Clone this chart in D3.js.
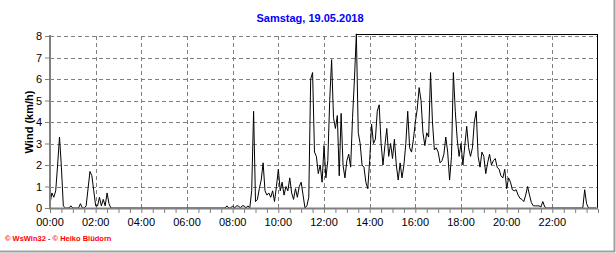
<!DOCTYPE html>
<html>
<head>
<meta charset="utf-8">
<script src="https://cdn.jsdelivr.net/npm/d3@7"></script>
<style>
  body { margin: 0; background: #fff; }
  svg { display: block; font-family: "Liberation Sans", Arial, sans-serif; }
</style>
</head>
<body>
<div id="chart"></div>
<script>
// wind speed, one value every 5 minutes from 00:00
var windValues = [
  0.2, 0.7, 0.5, 0.8, 2.0, 3.3, 1.9, 0.1,
  0, 0, 0, 0.1, 0, 0, 0, 0, 0.2, 0, 0, 0.1, 0.9, 1.7, 1.5, 0.8, 0.1, 0.1, 0.5, 0.1, 0.4, 0.1, 0.7, 0.2, 0,
  0, 0, 0, 0, 0, 0, 0, 0, 0, 0, 0, 0, 0, 0, 0, 0, 0, 0, 0, 0,
  0, 0, 0, 0, 0, 0, 0, 0, 0, 0, 0, 0, 0, 0, 0, 0, 0, 0, 0, 0,
  0, 0, 0, 0, 0, 0, 0, 0, 0, 0, 0, 0, 0, 0, 0, 0, 0, 0, 0, 0,
  0.1, 0, 0, 0.1, 0, 0.1, 0.1, 0, 0.1, 0.1, 0, 0.1, 0,
  0.8, 4.5, 0.3, 0.4, 0.9, 1.3, 2.1, 0.8, 0.6, 0.7, 0.5, 0.8, 0.3, 1.0, 1.8, 0.8, 1.2,
  0.6, 1.0, 0.8, 1.4, 0.7, 0.4, 0.9, 0.5, 1.0, 1.2, 0.6, 0, 0.1, 0.5, 6.0, 6.3, 2.6,
  2.4, 1.6, 2.0, 1.2, 2.9, 1.4, 2.2, 5.0, 6.9, 4.2, 3.7, 4.3, 1.5, 4.4, 2.0,
  1.4, 2.2, 2.5, 1.9, 4.2, 6.0, 8.1, 3.5, 3.0, 2.0, 1.9, 1.2, 0.9, 2.2, 3.9,
  3.0, 3.2, 4.5, 4.8, 3.0, 2.0, 2.9, 3.7, 2.4, 3.0, 2.3, 3.2, 2.0, 1.3, 2.1,
  1.4, 2.0, 3.0, 4.5, 2.8, 2.6, 3.2, 4.0, 4.6, 5.6, 5.0, 3.5, 2.9, 3.5, 3.3,
  6.3, 4.0, 2.7, 2.8, 2.6, 2.1, 2.2, 2.5, 3.3, 2.6, 1.3, 2.4, 6.3, 4.5, 3.2,
  2.4, 3.0, 2.0, 2.9, 3.8, 2.8, 2.4, 2.8, 4.0, 4.5, 2.4, 1.9, 2.6, 2.4, 1.6,
  2.1, 2.5, 2.0, 2.2, 2.3, 1.9, 1.8, 1.5, 1.4, 1.8, 0.9, 1.4, 1.2, 0.85, 0.8, 0.85,
  0.6, 0.45, 0.4, 0.3, 0.6, 1.0, 0.6, 0.25, 0.1, 0.1, 0.1, 0.1, 0.05, 0.3, 0.05,
  0, 0, 0, 0, 0, 0, 0, 0, 0, 0, 0, 0, 0, 0, 0, 0, 0, 0, 0, 0,
  0.85, 0.2, 0, 0, 0, 0, 0
];
var stepMinutes = 5;

var hourTicks = [0, 120, 240, 360, 480, 600, 720, 840, 960, 1080, 1200, 1320];
var hourLabels = ["00:00", "02:00", "04:00", "06:00", "08:00", "10:00",
                  "12:00", "14:00", "16:00", "18:00", "20:00", "22:00"];
var yTicks = [0, 1, 2, 3, 4, 5, 6, 7, 8];

var titleText = "Samstag, 19.05.2018";
var yLabel = "Wind (km/h)";
var footerText = "\u00a9 WsWin32  -  \u00a9 Heiko Blüdorn";

var width = 616,
    height = 253;

var svg = d3.select("#chart")
  .append("svg")
  .attr("width", width)
  .attr("height", height);

var x = d3.scaleLinear().domain([0, 1440]).range([50, 598]);
var y = d3.scaleLinear().domain([0, 8]).range([208, 36]);

// outer frame (right + bottom only)
svg.append("line").attr("x1", 614.5).attr("x2", 614.5).attr("y1", 0).attr("y2", 252)
  .attr("stroke", "#a0a0a0").attr("stroke-width", 2);
svg.append("line").attr("x1", 0).attr("x2", 615).attr("y1", 251.5).attr("y2", 251.5)
  .attr("stroke", "#a0a0a0").attr("stroke-width", 2);

// title
svg.append("text")
  .attr("x", 310).attr("y", 22)
  .attr("text-anchor", "middle")
  .attr("font-size", "11px").attr("font-weight", "bold")
  .attr("fill", "#0000ff")
  .text(titleText);

// grid
svg.append("g").selectAll("line.h")
  .data(yTicks.filter(function(d){ return d > 0; }))
  .enter().append("line")
  .attr("x1", x(0)).attr("x2", x(1440))
  .attr("y1", function(d){ return Math.round(y(d)) + 0.5; })
  .attr("y2", function(d){ return Math.round(y(d)) + 0.5; })
  .attr("stroke", "#808080").attr("stroke-dasharray", "4,3");

svg.append("g").selectAll("line.v")
  .data(hourTicks.filter(function(d){ return d > 0; }))
  .enter().append("line")
  .attr("x1", function(d){ return Math.round(x(d)) + 0.5; })
  .attr("x2", function(d){ return Math.round(x(d)) + 0.5; })
  .attr("y1", y(8)).attr("y2", y(0))
  .attr("stroke", "#808080").attr("stroke-dasharray", "4,3");

// x axis: minor ticks every 30 min, labels every 2 h
var xAxis = d3.axisBottom(x)
  .tickValues(d3.range(0, 1441, 30))
  .tickSize(4)
  .tickFormat("");
var gx = svg.append("g").attr("transform", "translate(0,209)").call(xAxis);
gx.select(".domain").remove();
gx.selectAll(".tick line").attr("stroke", "#808080");

svg.append("g").selectAll("text.xl")
  .data(hourTicks)
  .enter().append("text")
  .attr("x", function(d){ return x(d); })
  .attr("y", 226)
  .attr("text-anchor", "middle")
  .attr("font-size", "11px")
  .attr("fill", "#000")
  .text(function(d, i){ return hourLabels[i]; });

// y axis
var yAxis = d3.axisLeft(y).tickValues(yTicks).tickSize(4).tickPadding(3)
  .tickFormat(d3.format("d"));
var gy = svg.append("g").attr("transform", "translate(49,0)").call(yAxis);
gy.select(".domain").remove();
gy.selectAll(".tick line").attr("stroke", "#808080");
gy.selectAll(".tick text").attr("font-size", "11px").attr("fill", "#000")
  .attr("font-family", "Liberation Sans, Arial, sans-serif");

svg.append("text")
  .attr("transform", "translate(33,122) rotate(-90)")
  .attr("text-anchor", "middle")
  .attr("font-size", "11px").attr("font-weight", "bold")
  .text(yLabel);

// data line
var line = d3.line()
  .x(function(d, i){ return x(i * stepMinutes); })
  .y(function(d){ return y(d); });

svg.append("path")
  .datum(windValues)
  .attr("d", line)
  .attr("fill", "none")
  .attr("stroke", "#000")
  .attr("stroke-width", 1);

// top frame from the daily maximum, right frame
var maxV = d3.max(windValues);
var maxI = windValues.indexOf(maxV);
svg.append("line")
  .attr("x1", x(maxI * stepMinutes)).attr("x2", x(1440) - 0.5)
  .attr("y1", Math.round(y(maxV)) + 0.5).attr("y2", Math.round(y(maxV)) + 0.5)
  .attr("stroke", "#000");
svg.append("line")
  .attr("x1", x(1440) - 0.5).attr("x2", x(1440) - 0.5)
  .attr("y1", Math.round(y(maxV))).attr("y2", y(0))
  .attr("stroke", "#000");

// axis lines (grey, drawn over the grid)
svg.append("line").attr("x1", 50).attr("x2", 50).attr("y1", y(8) - 1).attr("y2", 209)
  .attr("stroke", "#808080").attr("stroke-width", 2);
svg.append("line").attr("x1", 49).attr("x2", x(1440)).attr("y1", 208.5).attr("y2", 208.5)
  .attr("stroke", "#808080").attr("stroke-width", 2);

// footer
svg.append("text")
  .attr("x", 5).attr("y", 241)
  .attr("font-size", "7.5px").attr("font-weight", "bold")
  .attr("fill", "#ff0000")
  .text(footerText);
</script>
</body>
</html>
